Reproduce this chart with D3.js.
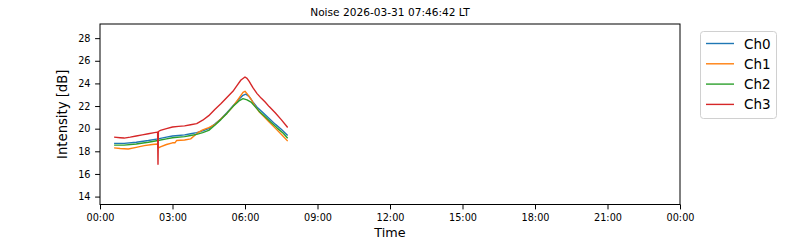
<!DOCTYPE html>
<html><head><meta charset="utf-8">
<script src="https://cdn.jsdelivr.net/npm/d3@7"></script>
<style>body{margin:0;background:#fff;} text{font-family:"DejaVu Sans",sans-serif;}</style>
</head><body><svg id="c" width="800" height="240"></svg>
<script>
const titleText = "Noise 2026-03-31 07:46:42 LT";
const seriesNames = ["Ch0","Ch1","Ch2","Ch3"];
const seriesColors = ["#1f77b4","#ff7f0e","#2ca02c","#d62728"];
const xTickHours = [0,3,6,9,12,15,18,21,24];
const xTickLabels = ["00:00","03:00","06:00","09:00","12:00","15:00","18:00","21:00","00:00"];
const yTicks = [14,16,18,20,22,24,26,28];

// minutes since 00:00
const ch0Times = [35,60,90,120,144,165,180,195,210,225,240,255,270,285,300,315,330,345,355,362,370,380,390,405,420,435,450,466];
const ch0Values = [18.7,18.7,18.8,18.95,19.1,19.25,19.35,19.4,19.45,19.55,19.65,19.8,20.0,20.4,20.85,21.4,22.0,22.6,22.95,23.05,22.85,22.35,21.9,21.4,20.9,20.4,19.95,19.4];

const ch1Times = [35,50,70,90,110,130,143,145,150,165,180,186,190,210,225,235,245,255,270,285,300,315,330,345,355,360,365,375,385,395,405,420,435,450,466];
const ch1Values = [18.3,18.25,18.2,18.35,18.5,18.6,18.65,18.3,18.4,18.6,18.75,18.75,18.95,19.0,19.1,19.4,19.7,19.9,20.1,20.35,20.85,21.35,21.95,22.7,23.2,23.3,23.1,22.6,22.0,21.5,21.15,20.6,20.05,19.5,18.9];

const ch2Times = [35,60,90,120,144,165,180,210,225,240,255,270,285,300,315,330,345,355,365,375,385,395,410,425,440,455,466];
const ch2Values = [18.55,18.55,18.65,18.8,18.95,19.1,19.2,19.3,19.4,19.5,19.65,19.85,20.3,20.8,21.35,21.95,22.45,22.65,22.55,22.35,21.95,21.55,21.05,20.55,20.05,19.6,19.15];

const ch3Times = [35,50,60,75,90,105,120,135,143,144,145,150,165,180,195,210,225,240,255,270,285,300,315,330,340,350,360,365,370,380,390,400,410,420,435,450,466];
const ch3Values = [19.25,19.2,19.17,19.25,19.35,19.45,19.55,19.65,19.7,16.85,19.75,19.85,20.0,20.15,20.2,20.25,20.35,20.45,20.75,21.15,21.7,22.2,22.75,23.3,23.8,24.3,24.57,24.45,24.2,23.6,23.1,22.7,22.35,21.95,21.4,20.8,20.1];

const allTimes = [ch0Times,ch1Times,ch2Times,ch3Times];
const allValues = [ch0Values,ch1Values,ch2Values,ch3Values];

const svg = d3.select("#c");
const L=100,R=680,T=24,B=204.5;
const x = d3.scaleLinear().domain([0,24*60]).range([L,R]);
const y = d3.scaleLinear().domain([13.3,29.25]).range([B,T]);

svg.append("text").attr("x",(L+R)/2).attr("y",16).attr("text-anchor","middle")
  .attr("font-size","10.6px").attr("fill","#000").text(titleText);

const line = d3.line().x(d=>x(d[0])).y(d=>y(d[1]));
seriesNames.forEach((n,i)=>{
  const pts = allTimes[i].map((t,j)=>[t,allValues[i][j]]);
  svg.append("path").datum(pts).attr("d",line).attr("fill","none")
    .attr("stroke",seriesColors[i]).attr("stroke-width",1.4).attr("stroke-linejoin","round");
});

const xAxis = d3.axisBottom(x).tickValues(xTickHours.map(h=>h*60))
  .tickFormat((d,i)=>xTickLabels[i]).tickSize(4.9).tickPadding(4.6);
const gx = svg.append("g").attr("transform",`translate(0,${B})`).call(xAxis);
gx.select(".domain").remove();
gx.selectAll("text").attr("font-size","9.7px").attr("font-family","DejaVu Sans").attr("fill","#000");
gx.selectAll("line").attr("stroke","#000").attr("stroke-width",1);

const yAxis = d3.axisLeft(y).tickValues(yTicks).tickSize(4.9).tickPadding(4.6);
const gy = svg.append("g").attr("transform",`translate(${L},0)`).call(yAxis);
gy.select(".domain").remove();
gy.selectAll("text").attr("font-size","9.7px").attr("font-family","DejaVu Sans").attr("fill","#000");
gy.selectAll("line").attr("stroke","#000").attr("stroke-width",1);

svg.append("rect").attr("x",L).attr("y",T).attr("width",R-L).attr("height",B-T)
  .attr("fill","none").attr("stroke","#000").attr("stroke-width",1);

svg.append("text").attr("x",(L+R)/2).attr("y",236.5).attr("text-anchor","middle")
  .attr("font-size","12.8px").attr("fill","#000").text("Time");
svg.append("text").attr("transform",`translate(67,${(T+B)/2}) rotate(-90)`).attr("text-anchor","middle")
  .attr("font-size","13.2px").attr("fill","#000").text("Intensity [dB]");

const lg = svg.append("g");
lg.append("rect").attr("x",700.5).attr("y",31.5).attr("width",76).attr("height",87).attr("rx",3)
  .attr("fill","#fff").attr("fill-opacity",0.8).attr("stroke","#d0d0d0").attr("stroke-width",1);
seriesNames.forEach((n,i)=>{
  const yy = 43.5 + i*20.3;
  lg.append("line").attr("x1",706).attr("x2",734).attr("y1",yy).attr("y2",yy)
    .attr("stroke",seriesColors[i]).attr("stroke-width",1.4);
  lg.append("text").attr("x",744).attr("y",yy+5).attr("font-size","13.5px").attr("fill","#000").text(n);
});
</script></body></html>
